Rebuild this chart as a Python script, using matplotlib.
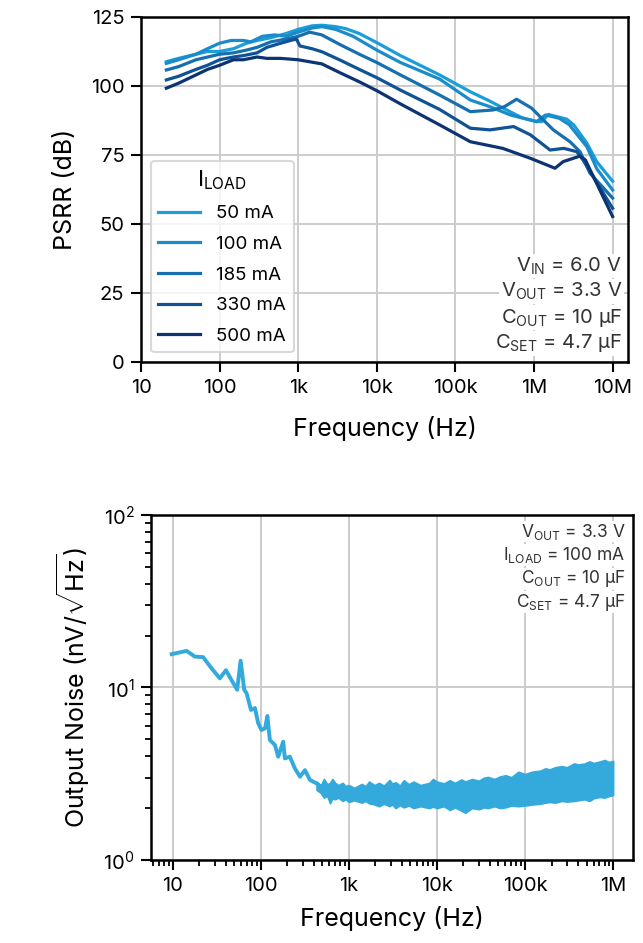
import numpy as np
import matplotlib
matplotlib.use('Agg')
import matplotlib.pyplot as plt
from matplotlib.ticker import FixedLocator, FixedFormatter, LogLocator, NullFormatter

plt.rcParams['font.family'] = ['Inter', 'DejaVu Sans']
plt.rcParams['mathtext.fontset'] = 'custom'
plt.rcParams['mathtext.rm'] = 'Inter'
plt.rcParams['mathtext.it'] = 'Inter'
plt.rcParams['mathtext.bf'] = 'Inter'

# ---- PSRR data ----
f_50 = [21, 30, 50, 70, 100, 150, 220, 300, 450, 700, 1000, 1500, 2000, 3000, 4000, 6000,
        10e3, 20e3, 63e3, 155e3, 275e3, 410e3, 700e3, 1.08e6, 1.25e6, 1.52e6, 2.2e6, 2.6e6,
        3.2e6, 4.7e6, 6.3e6, 10e6]
db_50 = [108.8, 110, 111.5, 112.5, 112.5, 113.5, 115.5, 116.5, 117.5, 119, 120.5, 121.8, 122,
         121.5, 120.8, 119, 115.7, 111, 104, 97.9, 94.5, 91.9, 88.5, 87.1, 87.1, 89.7, 88.5, 88,
         85.9, 79.3, 72.5, 65.5]

f_100 = [21, 30, 50, 70, 100, 140, 200, 250, 350, 500, 700, 1000, 1500, 2000, 3000, 5000,
         10e3, 20e3, 63e3, 155e3, 275e3, 500e3, 1.08e6, 1.4e6, 2.1e6, 2.8e6, 4.7e6, 6.3e6, 10e6]
db_100 = [108.2, 109.5, 111.5, 113.5, 115.5, 116.5, 116.5, 116, 118, 118.5, 118, 119.5, 121,
          121.5, 120.5, 118, 113, 108.5, 102.5, 94.9, 92.5, 89.5, 87.1, 89.5, 88.3, 86, 78, 70,
          62.3]

f_185 = [21, 30, 50, 100, 150, 220, 300, 450, 700, 1000, 1400, 2000, 3400, 6000, 10e3, 20e3,
         63e3, 155e3, 300e3, 420e3, 600e3, 930e3, 1.25e6, 1.76e6, 2.87e6, 3.85e6, 5.15e6, 10e6]
db_185 = [105.8, 107, 109.5, 111.5, 112, 113, 114, 116, 117, 118, 119.5, 118.5, 115, 111.5,
          108.5, 104, 96.7, 90.7, 91.3, 92.5, 95.2, 92, 88.3, 84.1, 79.8, 76.2, 68.4, 59.4]

f_330 = [21, 30, 50, 70, 100, 150, 200, 300, 400, 600, 800, 950, 1050, 1500, 2000, 3400, 6000,
         10e3, 20e3, 63e3, 155e3, 275e3, 550e3, 900e3, 1.6e6, 2.4e6, 3.5e6, 4.2e6, 10e6]
db_330 = [102.2, 103.5, 106, 107.5, 109.5, 110.5, 111, 112, 114, 115.5, 116.5, 117, 114.5,
          113.5, 112.4, 109.4, 106, 103, 98.5, 91.5, 84.7, 84.1, 85.3, 82.3, 76.8, 77.4, 76.2,
          73.2, 55.7]

f_500 = [21, 30, 50, 70, 100, 150, 200, 300, 400, 600, 1000, 2000, 3400, 6000, 10e3, 20e3,
         63e3, 155e3, 400e3, 900e3, 1.85e6, 2.35e6, 3.85e6, 4.5e6, 10e6]
db_500 = [99.2, 101, 104, 106, 107.5, 109.5, 109.5, 110.5, 110, 110, 109.5, 108, 104.8, 101.5,
          98.3, 93.5, 85.9, 79.8, 77.4, 73.8, 70.2, 72.6, 74.6, 73.2, 52.7]

loads = ['50 mA', '100 mA', '185 mA', '330 mA', '500 mA']
colors = ['#1b9dd9', '#1a8bcb', '#166fae', '#0f5295', '#0c3472']

psrr_ticks = [10, 100, 1e3, 1e4, 1e5, 1e6, 1e7]
psrr_ticklabels = ['10', '100', '1k', '10k', '100k', '1M', '10M']

# ---- Output noise data ----
f_noise = [9.75, 14.4, 17.9, 22.2, 27.7, 34.4, 40.3, 46.8, 54, 59.1, 65, 69.2, 77.5, 86, 93.7,
           102, 112, 119, 127, 145, 158, 180, 188, 214, 244, 279, 318, 362, 430, 510]
n_noise = [15.6, 16.3, 15.1, 15.0, 12.9, 11.3, 12.6, 11.0, 9.7, 14.3, 9.7, 9.25, 7.41, 7.6, 6.2,
           5.67, 5.8, 6.84, 4.96, 4.64, 3.97, 4.85, 3.88, 3.97, 3.4, 3.04, 3.32, 2.91, 2.78, 2.6]

# envelope of the dense noise band above ~400 Hz
f_band = [430, 480, 520, 570, 611, 650, 700, 760, 850, 920, 1000, 1150, 1400, 1550, 1700, 1950,
          2200, 2500, 2900, 3100, 3400, 3800, 4200, 4800, 5400, 6500, 8200, 9000, 10e3, 12e3,
          14e3, 16e3, 19e3, 21e3, 25e3, 30e3, 34e3, 38e3, 45e3, 52e3, 60e3, 70e3, 84e3, 100e3,
          120e3, 150e3, 170e3, 190e3, 220e3, 260e3, 300e3, 360e3, 400e3, 470e3, 540e3, 600e3,
          700e3, 800e3, 900e3, 1e6]
band_hi = [2.85, 2.7, 2.95, 2.75, 2.8, 2.95, 2.8, 2.72, 2.8, 2.68, 2.72, 2.62, 2.76, 2.68, 2.85,
           2.72, 2.8, 2.7, 2.91, 2.78, 2.82, 2.7, 2.9, 2.75, 2.85, 2.72, 2.8, 2.95, 2.85, 2.78,
           2.9, 2.8, 2.93, 2.85, 2.95, 2.88, 3.0, 3.03, 2.95, 3.05, 3.1, 3.02, 3.25, 3.15, 3.25,
           3.3, 3.4, 3.35, 3.45, 3.5, 3.45, 3.63, 3.58, 3.62, 3.73, 3.65, 3.72, 3.8, 3.7, 3.75]
band_lo = [2.55, 2.45, 2.3, 2.35, 2.13, 2.28, 2.25, 2.3, 2.2, 2.25, 2.17, 2.22, 2.15, 2.2, 2.13,
           2.1, 2.05, 2.12, 2.05, 2.1, 2.0, 2.08, 2.02, 2.07, 2.0, 2.05, 2.0, 2.04, 2.0, 2.05,
           1.95, 2.02, 1.93, 1.88, 2.0, 1.97, 2.02, 2.0, 2.05, 2.0, 2.02, 2.07, 2.05, 2.07,
           2.1, 2.12, 2.15, 2.17, 2.15, 2.2, 2.18, 2.2, 2.22, 2.25, 2.2, 2.28, 2.32, 2.3, 2.35,
           2.38]

noise_ticks = [10, 100, 1e3, 1e4, 1e5, 1e6]
noise_ticklabels = ['10', '100', '1k', '10k', '100k', '1M']

fig = plt.figure(figsize=(6.43, 9.43), dpi=100)
ax1 = fig.add_axes([0.2193, 0.6161, 0.7574, 0.3659])
ax2 = fig.add_axes([0.2348, 0.0880, 0.7496, 0.3659])

for ax in (ax1, ax2):
    ax.grid(True, which='major', color='#cccccc', lw=1.4)
    ax.set_axisbelow(True)
    for s in ax.spines.values():
        s.set_linewidth(1.8)
    ax.tick_params(which='major', length=7, width=1.5, labelsize=14.5, color='black', pad=5)
    ax.tick_params(which='minor', length=4.5, width=1.3)

# top: PSRR
for f, d, c, lab in zip([f_50, f_100, f_185, f_330, f_500],
                        [db_50, db_100, db_185, db_330, db_500], colors, loads):
    ax1.plot(f, d, color=c, lw=2.3, label=lab)
ax1.set_xscale('log')
ax1.set_xlim(10, 1.57e7)
ax1.set_ylim(0, 125)
ax1.set_yticks([0, 25, 50, 75, 100, 125])
ax1.xaxis.set_major_locator(FixedLocator(psrr_ticks))
ax1.xaxis.set_major_formatter(FixedFormatter(psrr_ticklabels))
ax1.xaxis.set_minor_locator(FixedLocator([]))
ax1.set_xlabel('Frequency (Hz)', fontsize=18, labelpad=14)
ax1.set_ylabel('PSRR (dB)', fontsize=18, labelpad=10)
leg = ax1.legend(title=r'I$_{\mathrm{LOAD}}$', loc='lower left', bbox_to_anchor=(0.02, 0.028),
                 borderaxespad=0, fontsize=13.5, title_fontsize=16, handlelength=2.2,
                 handletextpad=0.9, labelspacing=0.72, frameon=True, fancybox=True)
leg.get_frame().set_edgecolor('#d0d0d0')
leg.get_frame().set_linewidth(1.5)

cond1 = [r'V$_{\mathrm{IN}}$ = 6.0 V', r'V$_{\mathrm{OUT}}$ = 3.3 V',
         r'C$_{\mathrm{OUT}}$ = 10 µF', r'C$_{\mathrm{SET}}$ = 4.7 µF']
for txt, yy in zip(cond1, [0.262, 0.189, 0.114, 0.040]):
    ax1.text(0.988, yy, txt, transform=ax1.transAxes, ha='right', va='baseline',
             fontsize=14.5, color='#333333',
             bbox=dict(facecolor='white', edgecolor='none', pad=1.0))

# bottom: noise
ax2.plot(f_noise, n_noise, color='#34aadc', lw=2.8)
ax2.fill_between(f_band, band_lo, band_hi, color='#34aadc', lw=1.2, edgecolor='#34aadc')
ax2.set_xscale('log')
ax2.set_yscale('log')
ax2.set_xlim(5.68, 1.68e6)
ax2.set_ylim(1, 100)
ax2.xaxis.set_major_locator(FixedLocator(noise_ticks))
ax2.xaxis.set_major_formatter(FixedFormatter(noise_ticklabels))
ax2.xaxis.set_minor_locator(LogLocator(base=10, subs=np.arange(2, 10), numticks=20))
ax2.xaxis.set_minor_formatter(NullFormatter())
ax2.yaxis.set_minor_locator(LogLocator(base=10, subs=np.arange(2, 10), numticks=20))
ax2.yaxis.set_minor_formatter(NullFormatter())
ax2.set_xlabel('Frequency (Hz)', fontsize=18, labelpad=8)
ax2.set_ylabel(r'Output Noise (nV/$\sqrt{\mathrm{Hz}}$)', fontsize=18, labelpad=8)

cond2 = [r'V$_{\mathrm{OUT}}$ = 3.3 V', r'I$_{\mathrm{LOAD}}$ = 100 mA',
         r'C$_{\mathrm{OUT}}$ = 10 µF', r'C$_{\mathrm{SET}}$ = 4.7 µF']
for txt, yy in zip(cond2, [0.937, 0.870, 0.802, 0.734]):
    ax2.text(0.985, yy, txt, transform=ax2.transAxes, ha='right', va='baseline',
             fontsize=12.5, color='#333333',
             bbox=dict(facecolor='white', edgecolor='none', pad=0.5))

fig.savefig('out.png', dpi=100)
